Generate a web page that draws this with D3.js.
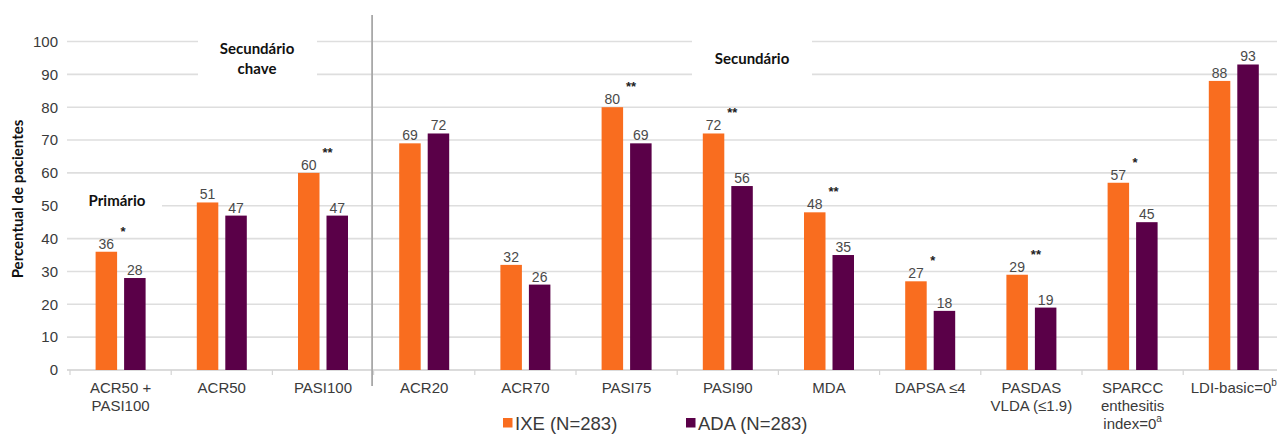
<!DOCTYPE html>
<html>
<head>
<meta charset="utf-8">
<script src="https://cdn.jsdelivr.net/npm/d3@7/dist/d3.min.js"></script>
<style>
  html, body { margin: 0; padding: 0; background: #fff; }
  svg { display: block; }
  .tick-label { font-family: "Liberation Sans", Arial, sans-serif; font-size: 15px; fill: #3a3a3a; }
  .cat-label { font-family: "Liberation Sans", Arial, sans-serif; font-size: 15px; fill: #3a3a3a; }
  .val-label { font-family: "Liberation Sans", Arial, sans-serif; font-size: 14px; fill: #4a4a4a; }
  .star { font-family: "Liberation Sans", Arial, sans-serif; font-size: 13px; font-weight: bold; fill: #222; }
  .note { font-family: Lato, "Open Sans", sans-serif; font-size: 15px; font-weight: bold; fill: #111; }
  .legend { font-family: "Liberation Sans", Arial, sans-serif; font-size: 18.5px; fill: #3a3a3a; }
</style>
</head>
<body>
<svg id="chart" width="1277" height="434"></svg>
<script>
// Outcome categories (a "^" marks a superscript footnote, "\n" a line break)
const categories = [
  "ACR50 +\nPASI100", "ACR50", "PASI100", "ACR20", "ACR70", "PASI75",
  "PASI90", "MDA", "DAPSA ≤4", "PASDAS\nVLDA (≤1.9)", "SPARCC\nenthesitis\nindex=0^a", "LDI-basic=0^b"
];
const seriesNames = ["IXE (N=283)", "ADA (N=283)"];
const ixeValues = [36, 51, 60, 69, 32, 80, 72, 48, 27, 29, 57, 88];
const adaValues = [28, 47, 47, 72, 26, 69, 56, 35, 18, 19, 45, 93];
// Significance markers for IXE vs ADA
const significance = ["*", "", "**", "", "", "**", "**", "**", "*", "**", "*", ""];
const yTicks = [0, 10, 20, 30, 40, 50, 60, 70, 80, 90, 100];
const yTitle = "Percentual de pacientes";
const sectionNotes = [
  { lines: ["Primário"], cat: 0 },
  { lines: ["Secundário", "chave"], cat: 1 },
  { lines: ["Secundário"], cat: 6 }
];

const colors = { "IXE (N=283)": "#f96d1f", "ADA (N=283)": "#5a0048" };

const svg = d3.select("#chart");

const x = d3.scaleBand().domain(categories).range([70, 1284.4]).paddingInner(0).paddingOuter(0);
const barW = 21.5, barGap = 7;
const groupW = 2 * barW + barGap;
const xSub = d3.scaleBand().domain(seriesNames)
  .range([(x.bandwidth() - groupW) / 2, (x.bandwidth() + groupW) / 2])
  .paddingInner(barGap / (barW + barGap)).paddingOuter(0);
const y = d3.scaleLinear().domain([0, 100]).range([370, 41.5]);

const plotLeft = 67, plotRight = 1277;

// horizontal grid
svg.append("g").selectAll("line")
  .data(yTicks.filter(d => d > 0))
  .join("line")
  .attr("x1", plotLeft).attr("x2", plotRight)
  .attr("y1", d => y(d)).attr("y2", d => y(d))
  .attr("stroke", "#dedede").attr("stroke-width", 1.6);

// white boxes behind section headings
const boxes = [
  { x0: 60, x1: 162, y0: 188, y1: 214 },
  { x0: 198, x1: 317, y0: 32, y1: 84 },
  { x0: 692, x1: 812, y0: 34, y1: 80 }
];
svg.append("g").selectAll("rect").data(boxes).join("rect")
  .attr("x", d => d.x0).attr("y", d => d.y0)
  .attr("width", d => d.x1 - d.x0).attr("height", d => d.y1 - d.y0)
  .attr("fill", "#fff");

// y axis labels
const yAxis = d3.axisLeft(y).tickValues(yTicks).tickSize(0).tickPadding(9);
const yg = svg.append("g").attr("transform", `translate(${plotLeft},0)`).call(yAxis);
yg.select(".domain").remove();
yg.selectAll("text").attr("class", "tick-label").attr("font-family", null).attr("font-size", null).attr("fill", null);

// x axis baseline and boundary ticks
svg.append("line")
  .attr("x1", plotLeft).attr("x2", plotRight)
  .attr("y1", y(0)).attr("y2", y(0))
  .attr("stroke", "#cfcfcf").attr("stroke-width", 1.6);
const boundaries = categories.map(c => x(c));
svg.append("g").selectAll("line").data(boundaries).join("line")
  .attr("x1", d => d).attr("x2", d => d)
  .attr("y1", y(0)).attr("y2", y(0) + 5)
  .attr("stroke", "#d4d4d4").attr("stroke-width", 1.2);

// divider between key and other secondary outcomes
svg.append("line")
  .attr("x1", x(categories[3]) - 1.5).attr("x2", x(categories[3]) - 1.5)
  .attr("y1", 15).attr("y2", 386)
  .attr("stroke", "#a8a8a8").attr("stroke-width", 1.8);

// bars
const rows = categories.map((c, i) => ({
  cat: c, sig: significance[i],
  vals: [{ s: seriesNames[0], v: ixeValues[i] }, { s: seriesNames[1], v: adaValues[i] }]
}));

const groups = svg.append("g").selectAll("g").data(rows).join("g")
  .attr("transform", d => `translate(${x(d.cat)},0)`);

groups.selectAll("rect").data(d => d.vals).join("rect")
  .attr("x", d => xSub(d.s)).attr("width", xSub.bandwidth())
  .attr("y", d => y(d.v)).attr("height", d => y(0) - y(d.v))
  .attr("fill", d => colors[d.s]);

groups.selectAll("text.val-label").data(d => d.vals).join("text")
  .attr("class", "val-label")
  .attr("text-anchor", "middle")
  .attr("x", d => xSub(d.s) + xSub.bandwidth() / 2)
  .attr("y", d => y(d.v) - 3)
  .text(d => d.v);

groups.filter(d => d.sig).append("text")
  .attr("class", "star")
  .attr("text-anchor", "middle")
  .attr("x", d => xSub(seriesNames[0]) + xSub.bandwidth() + 6 + (d.sig.length - 1) * 2)
  .attr("y", d => y(d.vals[0].v) - 16)
  .text(d => d.sig);

// category labels
const catG = svg.append("g").selectAll("text").data(categories).join("text")
  .attr("class", "cat-label")
  .attr("text-anchor", "middle")
  .attr("x", d => x(d) + x.bandwidth() / 2)
  .attr("y", 393);
catG.each(function(d) {
  const t = d3.select(this);
  d.split("\n").forEach((line, li) => {
    const parts = line.split("^");
    t.append("tspan").attr("x", x(d) + x.bandwidth() / 2).attr("dy", li === 0 ? 0 : 18).text(parts[0]);
    if (parts[1]) {
      t.append("tspan").attr("font-size", "10px").attr("dy", -7).text(parts[1]);
      t.append("tspan").attr("font-size", "1px").attr("dy", 7).text(" ");
    }
  });
});

// y axis title
svg.append("text")
  .attr("class", "note")
  .attr("text-anchor", "middle")
  .attr("transform", "translate(23,199) rotate(-90)")
  .text(yTitle);

// section headings
const noteCenters = [117, 257, 752];
const noteTops = [206, 54, 64];
svg.append("g").selectAll("text").data(sectionNotes).join("text")
  .attr("class", "note")
  .attr("text-anchor", "middle")
  .attr("x", (d, i) => noteCenters[i])
  .attr("y", (d, i) => noteTops[i])
  .each(function(d, i) {
    d.lines.forEach((l, li) => d3.select(this).append("tspan")
      .attr("x", noteCenters[i]).attr("dy", li === 0 ? 0 : 20).text(l));
  });

// legend
const legendX = [503, 686];
const lg = svg.append("g").selectAll("g").data(seriesNames).join("g")
  .attr("transform", (d, i) => `translate(${legendX[i]},418)`);
lg.append("rect").attr("width", 9.5).attr("height", 9.5).attr("fill", d => colors[d]);
lg.append("text").attr("class", "legend").attr("x", 12).attr("y", 11.5).text(d => d);
</script>
</body>
</html>
